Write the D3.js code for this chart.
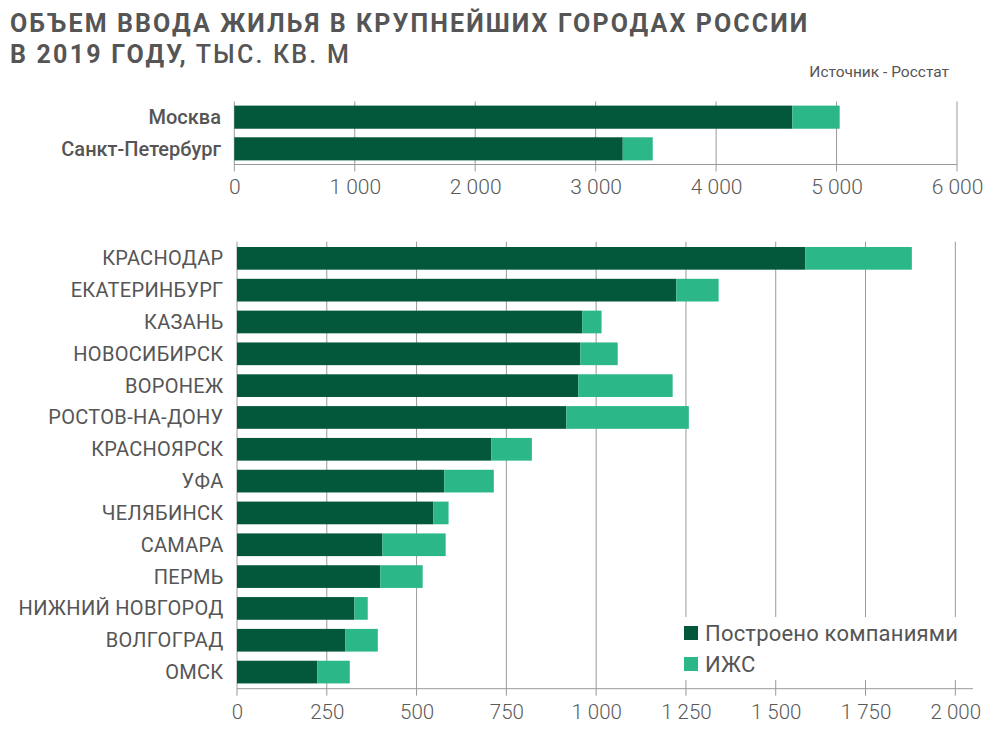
<!DOCTYPE html>
<html>
<head>
<meta charset="utf-8">
<script src="https://cdn.jsdelivr.net/npm/d3@7"></script>
<style>
  body { margin: 0; background: #fff; }
  svg { font-family: Roboto, "Noto Sans", sans-serif; }
</style>
</head>
<body>
<div id="chart"></div>
<script>
// Data: top panel (two capitals)
const topCities = ['Москва', 'Санкт-Петербург'];
const topCompanies = [4633, 3225];
const topIzhs = [393, 249];
const topTicks = [0, 1000, 2000, 3000, 4000, 5000, 6000];

// Data: bottom panel (other large cities)
const cities = ['КРАСНОДАР', 'ЕКАТЕРИНБУРГ', 'КАЗАНЬ', 'НОВОСИБИРСК', 'ВОРОНЕЖ', 'РОСТОВ-НА-ДОНУ',
  'КРАСНОЯРСК', 'УФА', 'ЧЕЛЯБИНСК', 'САМАРА', 'ПЕРМЬ', 'НИЖНИЙ НОВГОРОД', 'ВОЛГОГРАД', 'ОМСК'];
const companies = [1582, 1223, 961, 956, 950, 917, 708, 577, 547, 405, 399, 327, 302, 224];
const izhs = [297, 118, 54, 104, 263, 341, 113, 138, 42, 176, 118, 37, 90, 90];
const bottomTicks = [0, 250, 500, 750, 1000, 1250, 1500, 1750, 2000];

const seriesNames = ['Построено компаниями', 'ИЖС'];
const colorDark = '#03573a';
const colorLight = '#2bb787';
const textColor = '#555';
const gridColor = '#999';

const width = 995;
const height = 732;

const locale = d3.formatLocale({ decimal: ',', thousands: ' ', grouping: [3], currency: ['', ''] });
const fmt = locale.format(',');

const svg = d3.select('#chart')
  .append('svg')
  .attr('width', width)
  .attr('height', height);

// Title
const title = svg.append('g').attr('fill', textColor);
title.append('text')
  .attr('x', 10).attr('y', 32)
  .attr('font-size', 25).attr('font-weight', 700)
  .attr('letter-spacing', 2.1)
  .text('ОБЪЕМ ВВОДА ЖИЛЬЯ В КРУПНЕЙШИХ ГОРОДАХ РОССИИ');
const t2 = title.append('text')
  .attr('x', 10).attr('y', 63)
  .attr('font-size', 25)
  .attr('letter-spacing', 2.2);
t2.append('tspan').attr('font-weight', 700).text('В 2019 ГОДУ,');
t2.append('tspan').attr('font-weight', 500).text(' ТЫС. КВ. М');

svg.append('text')
  .attr('x', 949).attr('y', 77)
  .attr('text-anchor', 'end')
  .attr('font-size', 15.5)
  .attr('fill', textColor)
  .text('Источник - Росстат');

// Draws one stacked horizontal bar panel
function drawPanel(opts) {
  const x = d3.scaleLinear().domain(opts.domain).range(opts.xRange);
  const y = d3.scaleBand()
    .domain(opts.cats)
    .range(opts.yRange)
    .paddingInner(opts.padIn)
    .paddingOuter(opts.padOut);
  const axisY = opts.yRange[1];
  const g = svg.append('g');

  // Grid lines
  g.selectAll('.grid')
    .data(opts.ticks)
    .enter()
    .append('line')
    .attr('x1', d => x(d)).attr('x2', d => x(d))
    .attr('y1', opts.yRange[0]).attr('y2', axisY + 7)
    .attr('stroke', gridColor)
    .attr('stroke-width', 1);

  // Bars
  opts.cats.forEach((c, i) => {
    g.append('rect')
      .attr('x', x(0))
      .attr('y', y(c))
      .attr('width', x(opts.a[i]) - x(0))
      .attr('height', y.bandwidth())
      .attr('fill', colorDark);
    g.append('rect')
      .attr('x', x(opts.a[i]))
      .attr('y', y(c))
      .attr('width', x(opts.a[i] + opts.b[i]) - x(opts.a[i]))
      .attr('height', y.bandwidth())
      .attr('fill', colorLight);
  });

  // Axis line
  g.append('line')
    .attr('x1', x(0)).attr('x2', opts.axisEnd)
    .attr('y1', axisY).attr('y2', axisY)
    .attr('stroke', gridColor);

  // Tick labels via d3 axis
  const axis = d3.axisBottom(x)
    .tickValues(opts.ticks)
    .tickFormat(fmt)
    .tickSize(0)
    .tickPadding(opts.labelPad);
  const ax = g.append('g')
    .attr('transform', `translate(0,${axisY})`)
    .call(axis);
  ax.select('.domain').remove();
  ax.selectAll('text')
    .attr('font-family', 'Roboto, sans-serif')
    .attr('font-size', opts.tickFont)
    .attr('font-weight', 300)
    .attr('fill', '#5a5a5a');

  // Category labels
  g.selectAll('.cat')
    .data(opts.cats)
    .enter()
    .append('text')
    .attr('x', opts.labelX)
    .attr('y', d => y(d) + y.bandwidth() / 2)
    .attr('dy', '0.35em')
    .attr('text-anchor', 'end')
    .attr('font-size', 20)
    .attr('font-weight', opts.catWeight)
    .attr('letter-spacing', opts.catSpacing)
    .attr('fill', textColor)
    .text(d => d);

  return { x, y, g };
}

drawPanel({
  cats: topCities, a: topCompanies, b: topIzhs, ticks: topTicks,
  domain: [0, 6000], xRange: [234.3, 957],
  yRange: [101.5, 164.5], padIn: 0.27, padOut: 0.13,
  axisEnd: 957, labelPad: 15, tickFont: 21, labelX: 221, catWeight: 500, catSpacing: 0
});

drawPanel({
  cats: cities, a: companies, b: izhs, ticks: bottomTicks,
  domain: [0, 2000], xRange: [237, 955.3],
  yRange: [241.7, 688.7], padIn: 0.287, padOut: 0.166,
  axisEnd: 973, labelPad: 16, tickFont: 20.5, labelX: 223.5, catWeight: 400, catSpacing: 0.3
});

// Legend with white background over the grid
const legend = svg.append('g');
legend.append('rect')
  .attr('x', 679).attr('y', 617)
  .attr('width', 290).attr('height', 63)
  .attr('fill', '#fff');
const legendColors = [colorDark, colorLight];
seriesNames.forEach((name, i) => {
  legend.append('rect')
    .attr('x', 684).attr('y', 626 + i * 31)
    .attr('width', 14).attr('height', 14)
    .attr('fill', legendColors[i]);
  legend.append('text')
    .attr('x', 705).attr('y', 640.5 + i * 31)
    .attr('font-size', 22)
    .attr('letter-spacing', 0.2)
    .attr('fill', textColor)
    .text(name);
});
</script>
</body>
</html>
